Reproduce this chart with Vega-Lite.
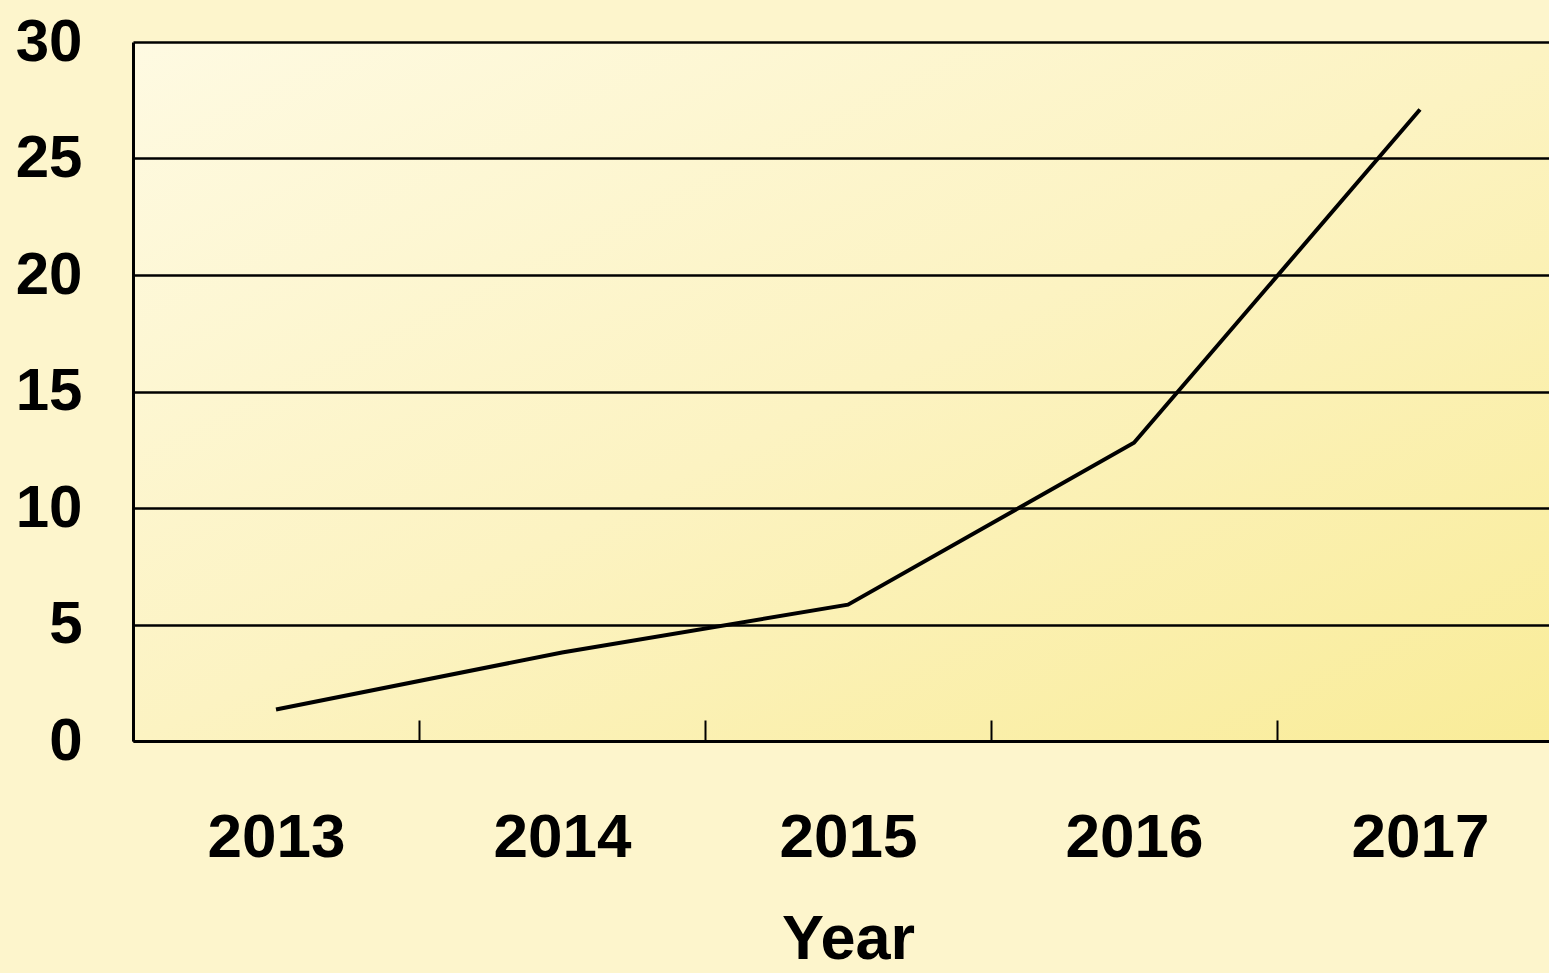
{
  "$schema": "https://vega.github.io/schema/vega-lite/v6.json",
  "width": 1430,
  "height": 699,
  "autosize": {"type": "none"},
  "padding": {"left": 133, "top": 42, "right": 0, "bottom": 232},
  "background": "#fdf5cc",
  "config": {
    "font": "Liberation Sans",
    "view": {
      "stroke": null,
      "fill": {
        "gradient": "linear",
        "x1": 0, "y1": 0, "x2": 1, "y2": 1,
        "stops": [
          {"offset": 0, "color": "#fefae2"},
          {"offset": 0.5, "color": "#fcf3c2"},
          {"offset": 1, "color": "#f9ec98"}
        ]
      }
    }
  },
  "data": {
    "values": [
      {"year": "2013", "value": 1.35},
      {"year": "2014", "value": 3.8},
      {"year": "2015", "value": 5.85},
      {"year": "2016", "value": 12.8},
      {"year": "2017", "value": 27.1}
    ]
  },
  "mark": {"type": "line", "color": "black", "strokeWidth": 4},
  "encoding": {
    "x": {
      "field": "year",
      "type": "ordinal",
      "bandPosition": 0.5,
      "scale": {"type": "band", "paddingInner": 0, "paddingOuter": 0},
      "axis": {
        "title": "Year",
        "tickBand": "extent",
        "tickSize": -21,
        "tickWidth": 2,
        "tickColor": "black",
        "domainColor": "black",
        "domainWidth": 3,
        "grid": false,
        "labelFont": "Liberation Sans",
        "labelFontWeight": "bold",
        "labelFontSize": 62,
        "labelColor": "black",
        "labelPadding": 87,
        "labelAngle": 0,
        "titleFont": "Liberation Sans",
        "titleFontSize": 63,
        "titleFontWeight": "bold",
        "titleColor": "black",
        "titlePadding": 40
      }
    },
    "y": {
      "field": "value",
      "type": "quantitative",
      "scale": {"domain": [0, 30]},
      "axis": {
        "title": null,
        "values": [0, 5, 10, 15, 20, 25, 30],
        "ticks": false,
        "labelPadding": 51,
        "labelFont": "Liberation Sans",
        "labelFontWeight": "bold",
        "labelFontSize": 60,
        "labelColor": "black",
        "grid": true,
        "gridColor": "black",
        "gridWidth": 2.5,
        "gridOpacity": 1,
        "domainColor": "black",
        "domainWidth": 3
      }
    }
  }
}
